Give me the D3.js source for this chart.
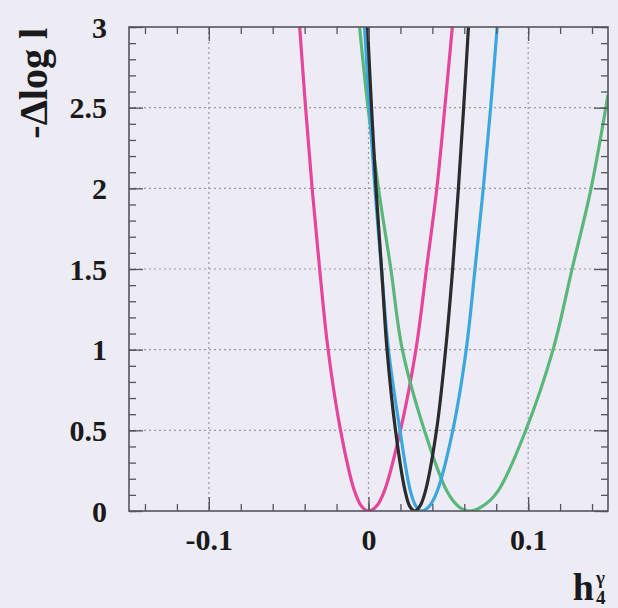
<!DOCTYPE html>
<html>
<head>
<meta charset="utf-8">
<script src="https://cdn.jsdelivr.net/npm/d3@7"></script>
<style>
  html, body { margin: 0; padding: 0; background: #edecf4; }
  svg { display: block; }
  .tick text { font-family: "Liberation Serif", "Times New Roman", serif; font-weight: bold; fill: #1a1a1a; }
</style>
</head>
<body>
<svg id="chart" width="618" height="608"></svg>
<script>
// Likelihood scans -Δlog L versus the coupling h4^γ.
// Each curve is listed as (coupling, -Δlog L) points along its profile.
const pinkX  = [-0.0431, -0.0394, -0.0353, -0.0306, -0.0253, -0.0175, -0.0088, -0.0044, 0.0000, 0.0050, 0.0100, 0.0200, 0.0297, 0.0363, 0.0428, 0.0478, 0.0525];
const pinkY  = [3.0, 2.5, 2.0, 1.5, 1.0, 0.5, 0.125, 0.03, 0.0, 0.03, 0.125, 0.5, 1.0, 1.5, 2.0, 2.5, 3.0];

const greenX = [-0.0056, -0.0003, 0.0062, 0.0140, 0.0212, 0.0350, 0.0490, 0.0562, 0.0631, 0.0715, 0.0812, 0.0985, 0.1156, 0.1275, 0.1394, 0.1500];
const greenY = [3.0, 2.5, 2.0, 1.5, 1.0, 0.5, 0.125, 0.03, 0.0, 0.03, 0.125, 0.5, 1.0, 1.5, 2.0, 2.58];

const blueX  = [-0.0025, 0.0006, 0.0040, 0.0081, 0.0125, 0.0197, 0.0262, 0.0297, 0.0331, 0.0381, 0.0431, 0.0528, 0.0612, 0.0667, 0.0719, 0.0765, 0.0806];
const blueY  = [3.0, 2.5, 2.0, 1.5, 1.0, 0.5, 0.125, 0.03, 0.0, 0.03, 0.125, 0.5, 1.0, 1.5, 2.0, 2.5, 3.0];

const blackX = [-0.0006, 0.0019, 0.0047, 0.0082, 0.0116, 0.0169, 0.0229, 0.0258, 0.0288, 0.0322, 0.0357, 0.0426, 0.0483, 0.0527, 0.0563, 0.0596, 0.0626];
const blackY = [3.0, 2.5, 2.0, 1.5, 1.0, 0.5, 0.125, 0.03, 0.0, 0.03, 0.125, 0.5, 1.0, 1.5, 2.0, 2.5, 3.0];

const xDomain = [-0.15, 0.15];
const yDomain = [0, 3];
const xMajorTicks = [-0.1, 0, 0.1];
const xTickLabels = ["-0.1", "0", "0.1"];
const yMajorTicks = [0, 0.5, 1, 1.5, 2, 2.5, 3];
const yTickLabels = ["0", "0.5", "1", "1.5", "2", "2.5", "3"];
const xMinorTicks = d3.range(-14, 15, 2).map(d => d / 100);
const yMinorTicks = d3.range(0, 31, 1).map(d => d / 10);

const series = [
  { name: "pink",  xs: pinkX,  ys: pinkY,  color: "#e6459c" },
  { name: "green", xs: greenX, ys: greenY, color: "#5ab77c" },
  { name: "blue",  xs: blueX,  ys: blueY,  color: "#3ca7df" },
  { name: "black", xs: blackX, ys: blackY, color: "#2b2b2e" }
];

const frame = { left: 129, right: 608, top: 27, bottom: 511 };
const svg = d3.select("#chart");

const x = d3.scaleLinear().domain(xDomain).range([frame.left, frame.right]);
const y = d3.scaleLinear().domain(yDomain).range([frame.bottom, frame.top]);

svg.append("rect").attr("width", 618).attr("height", 608).attr("fill", "#edecf4");

// dotted grid at the major ticks
const grid = svg.append("g").attr("stroke", "#9a99a2").attr("stroke-width", 1.2)
  .attr("stroke-dasharray", "2,3");
grid.selectAll("line.gx").data(xMajorTicks).join("line").attr("class", "gx")
  .attr("x1", d => x(d)).attr("x2", d => x(d))
  .attr("y1", frame.top).attr("y2", frame.bottom);
grid.selectAll("line.gy").data(yMajorTicks.filter(d => d > 0 && d < 3)).join("line").attr("class", "gy")
  .attr("x1", frame.left).attr("x2", frame.right)
  .attr("y1", d => y(d)).attr("y2", d => y(d));

// curves, clipped to the frame
svg.append("clipPath").attr("id", "plotclip").append("rect")
  .attr("x", frame.left).attr("y", frame.top)
  .attr("width", frame.right - frame.left).attr("height", frame.bottom - frame.top);

const line = d3.line().x(d => x(d[0])).y(d => y(d[1])).curve(d3.curveCatmullRom.alpha(0.5));
const curves = svg.append("g").attr("clip-path", "url(#plotclip)");
series.forEach(s => {
  curves.append("path")
    .datum(s.xs.map((v, i) => [v, s.ys[i]]))
    .attr("fill", "none")
    .attr("stroke", s.color)
    .attr("stroke-width", 3.2)
    .attr("stroke-linejoin", "round")
    .attr("d", line);
});

// axes: inward ticks on all four sides, labels on bottom and left
const axisStyle = g => {
  g.selectAll(".domain").remove();
  g.selectAll(".tick line").attr("stroke", "#55545c").attr("stroke-width", 1.3);
};

svg.append("g").attr("transform", `translate(0,${frame.bottom})`)
  .call(d3.axisBottom(x).tickValues(xMinorTicks).tickSize(-7).tickFormat(""))
  .call(axisStyle);
svg.append("g").attr("transform", `translate(0,${frame.bottom})`)
  .call(d3.axisBottom(x).tickValues(xMajorTicks).tickSize(-14)
    .tickFormat((d, i) => xTickLabels[i]))
  .call(axisStyle)
  .call(g => g.selectAll(".tick text").attr("y", 39).attr("dy", 0).attr("font-size", 30));

svg.append("g").attr("transform", `translate(0,${frame.top})`)
  .call(d3.axisTop(x).tickValues(xMinorTicks).tickSize(-7).tickFormat(""))
  .call(axisStyle);
svg.append("g").attr("transform", `translate(0,${frame.top})`)
  .call(d3.axisTop(x).tickValues(xMajorTicks).tickSize(-14).tickFormat(""))
  .call(axisStyle);

svg.append("g").attr("transform", `translate(${frame.left},0)`)
  .call(d3.axisLeft(y).tickValues(yMinorTicks).tickSize(-7).tickFormat(""))
  .call(axisStyle);
svg.append("g").attr("transform", `translate(${frame.left},0)`)
  .call(d3.axisLeft(y).tickValues(yMajorTicks).tickSize(-14).tickPadding(22)
    .tickFormat((d, i) => yTickLabels[i]))
  .call(axisStyle)
  .call(g => g.selectAll(".tick text").attr("font-size", 30).attr("dy", "0.34em"));

svg.append("g").attr("transform", `translate(${frame.right},0)`)
  .call(d3.axisRight(y).tickValues(yMinorTicks).tickSize(-7).tickFormat(""))
  .call(axisStyle);
svg.append("g").attr("transform", `translate(${frame.right},0)`)
  .call(d3.axisRight(y).tickValues(yMajorTicks).tickSize(-14).tickFormat(""))
  .call(axisStyle);

// frame
svg.append("rect")
  .attr("x", frame.left).attr("y", frame.top)
  .attr("width", frame.right - frame.left).attr("height", frame.bottom - frame.top)
  .attr("fill", "none").attr("stroke", "#55545c").attr("stroke-width", 1.6);

// axis titles
const serif = '"Liberation Serif", "Times New Roman", serif';
svg.append("text")
  .attr("transform", "translate(47,28) rotate(-90)")
  .attr("text-anchor", "end")
  .attr("font-family", serif).attr("font-weight", "bold").attr("font-size", 40)
  .attr("fill", "#1a1a1a")
  .text("-Δlog l");

const xt = svg.append("g").attr("font-family", serif).attr("font-weight", "bold").attr("fill", "#1a1a1a");
xt.append("text").attr("x", 594).attr("y", 600).attr("text-anchor", "end").attr("font-size", 38).text("h");
xt.append("text").attr("x", 596).attr("y", 584).attr("font-size", 19).text("γ");
xt.append("text").attr("x", 596).attr("y", 604).attr("font-size", 19).text("4");
</script>
</body>
</html>
